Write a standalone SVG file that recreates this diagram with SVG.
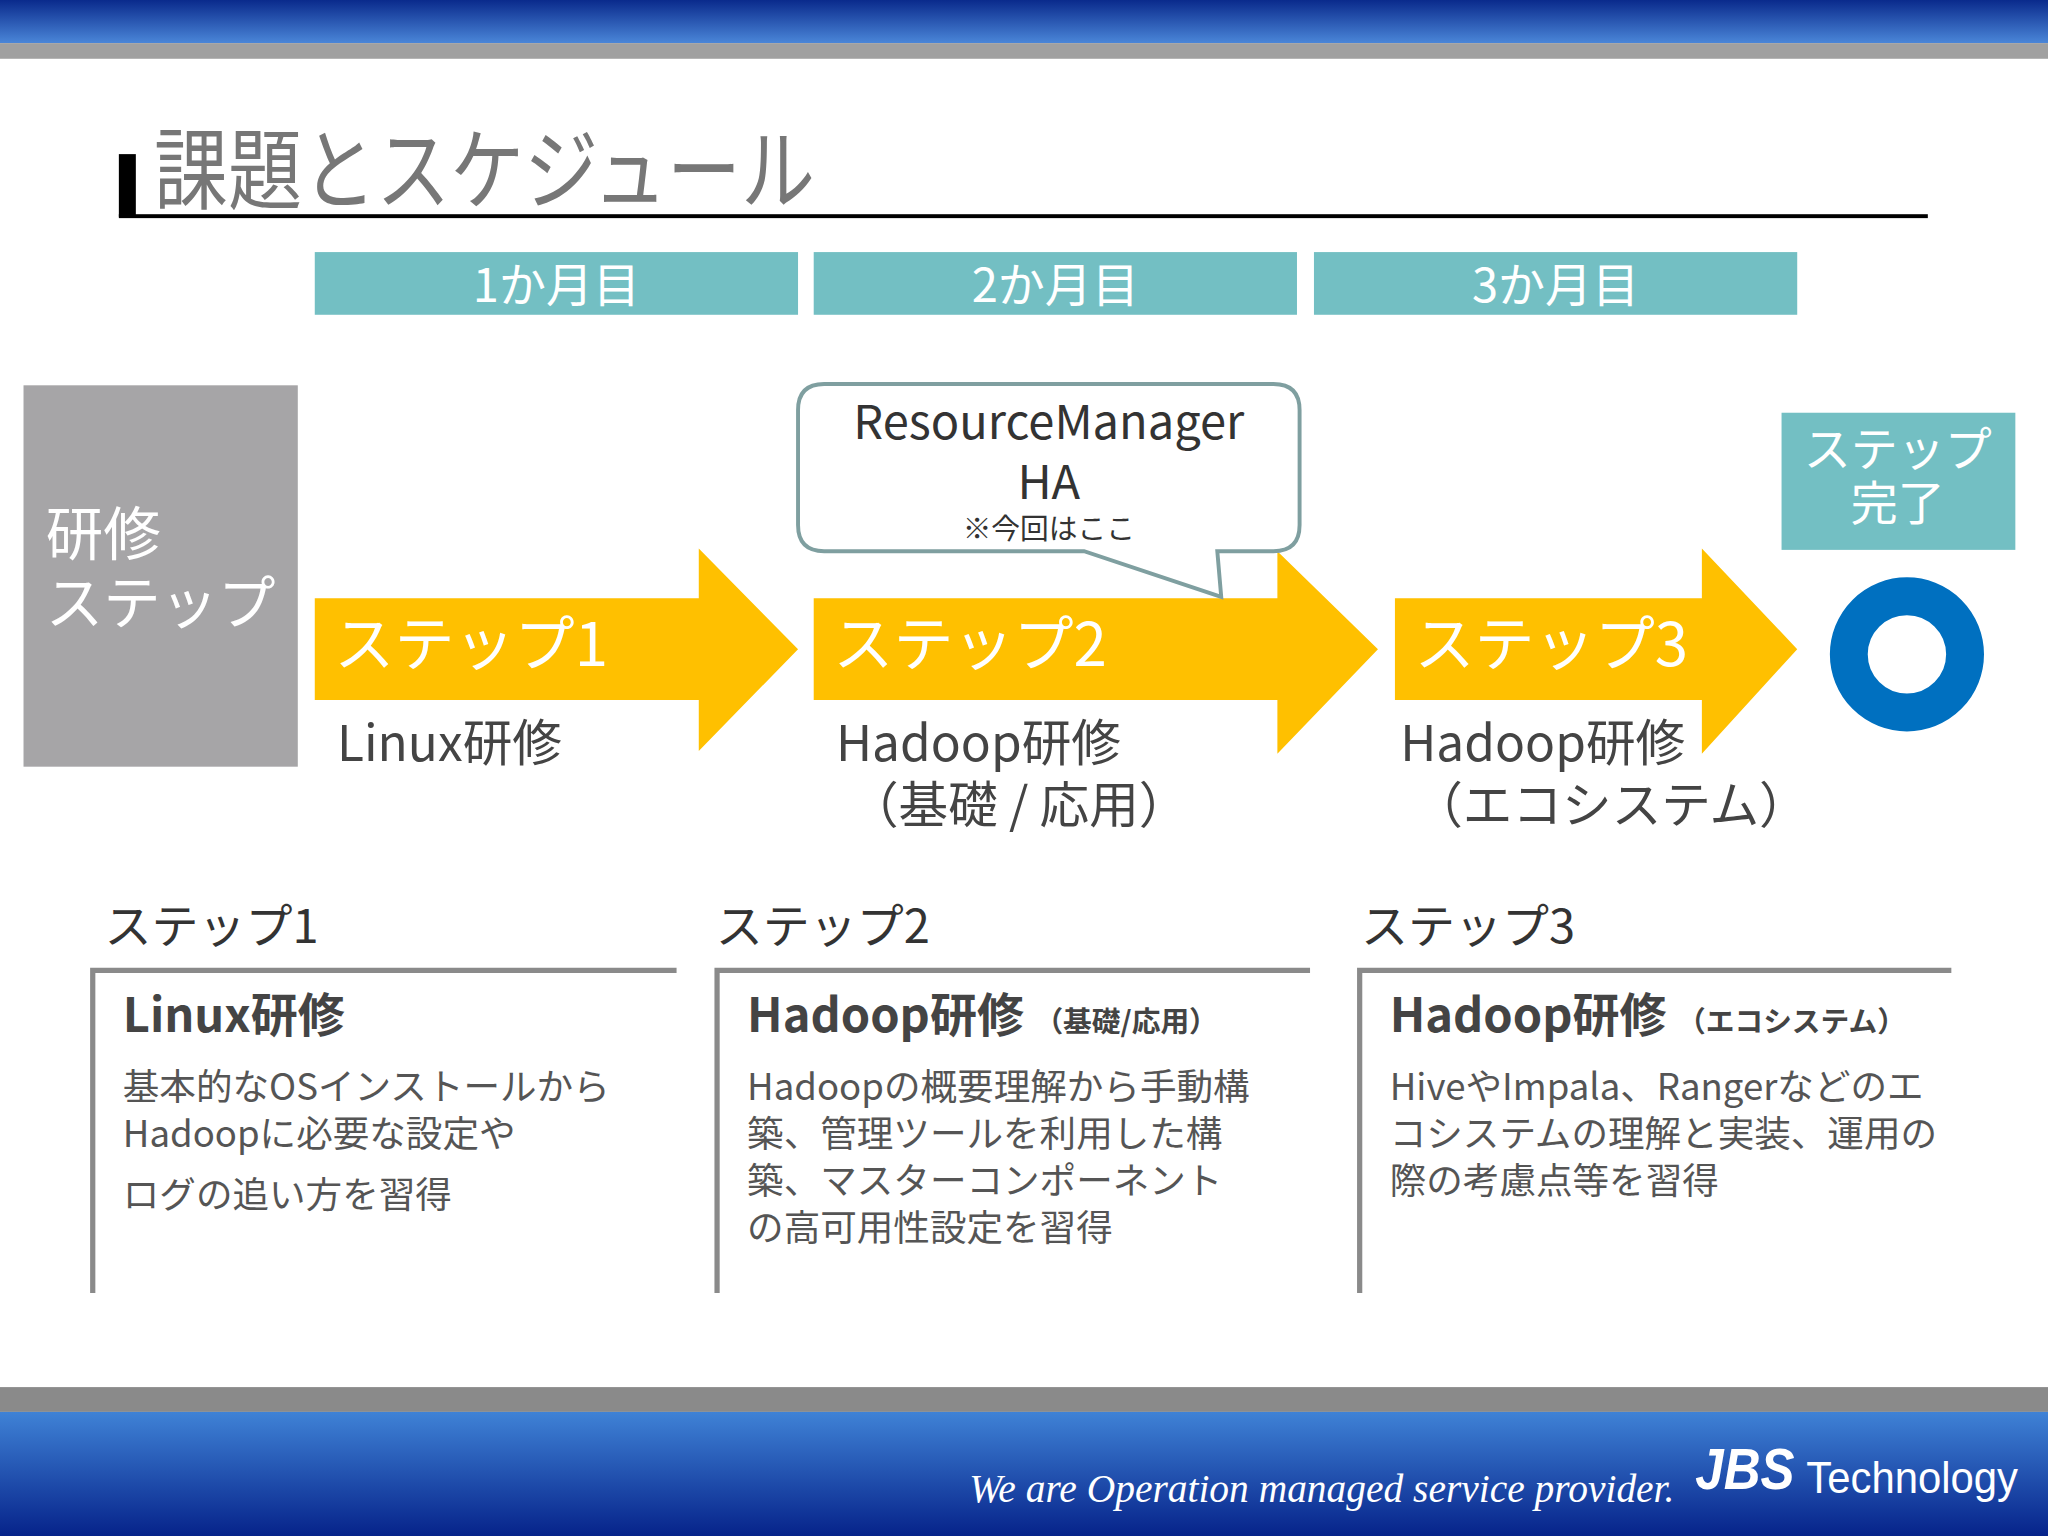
<svg xmlns="http://www.w3.org/2000/svg" width="2048" height="1536" viewBox="0 0 2048 1536">
<defs>
<linearGradient id="top" x1="0" y1="0" x2="0" y2="1"><stop offset="0" stop-color="#0a2a8c"/><stop offset="1" stop-color="#4a86d8"/></linearGradient>
<linearGradient id="bot" x1="0" y1="0" x2="0" y2="1"><stop offset="0" stop-color="#3f82d6"/><stop offset="1" stop-color="#06238a"/></linearGradient>
<style>
text{font-family:"Noto Sans CJK JP","Liberation Sans",sans-serif}
.m{fill:#fff;font-size:36px;text-anchor:middle}
.st{fill:#fff;font-size:46px}
.sub{fill:#444;font-size:38px}
.h{fill:#333;font-size:36px}
.bt{fill:#444;font-size:36px;font-weight:bold}
.bs{font-size:22px}
.b{fill:#555;font-size:28px}
.arrow{fill:#FFC000}
.frame{fill:none;stroke:#8a8a8a;stroke-width:4}
.ft{fill:#fff;font-family:"Liberation Serif",serif;font-style:italic}
.fs{fill:#fff;font-family:"Liberation Sans",sans-serif}
</style>
</defs>
<rect width="2048" height="1536" fill="#fff"/>
<g transform="scale(1.30612)">
<rect x="0" y="0" width="1568" height="33" fill="url(#top)"/>
<rect x="0" y="33" width="1568" height="12" fill="#a0a0a0"/>
<g id="title">
<rect x="91" y="118" width="13" height="48" fill="#000"/>
<rect x="91" y="164" width="1385" height="3" fill="#000"/>
<text x="118" y="155" fill="#777" font-size="68" textLength="506" lengthAdjust="spacingAndGlyphs">課題とスケジュール</text>
</g>
<g id="months">
<rect x="241" y="193" width="370" height="48" fill="#73BFC3"/>
<rect x="623" y="193" width="370" height="48" fill="#73BFC3"/>
<rect x="1006" y="193" width="370" height="48" fill="#73BFC3"/>
<text class="m" x="426" y="231">1か月目</text>
<text class="m" x="808" y="231">2か月目</text>
<text class="m" x="1191" y="231">3か月目</text>
</g>
<g id="label">
<rect x="18" y="295" width="210" height="292" fill="#A6A5A7"/>
<text x="35" y="425" fill="#fff" font-size="44">研修</text>
<text x="35" y="478" fill="#fff" font-size="44">ステップ</text>
</g>
<g id="step1">
<polygon class="arrow" points="241,458 535,458 535,420 611,497 535,575 535,536 241,536"/>
<text class="st" x="256" y="510">ステップ1</text>
<text class="sub" x="258" y="583">Linux研修</text>
</g>
<g id="step2">
<polygon class="arrow" points="623,458 978,458 978,422 1055,497 978,577 978,536 623,536"/>
<text class="st" x="638" y="510">ステップ2</text>
<text class="sub" x="640" y="583">Hadoop研修</text>
<text class="sub" x="650" y="630">（基礎 / 応用）</text>
</g>
<g id="step3">
<polygon class="arrow" points="1068,458 1303,458 1303,420 1376,497 1303,577 1303,536 1068,536"/>
<text class="st" x="1083" y="510">ステップ3</text>
<text class="sub" x="1072" y="583">Hadoop研修</text>
<text class="sub" x="1082" y="630">（エコシステム）</text>
</g>
<g id="callout">
<path d="M631,294 H975 Q995,294 995,314 V402 Q995,422 975,422 H932 L935,457 L830,422 H631 Q611,422 611,402 V314 Q611,294 631,294 Z" fill="#fff" stroke="#7F9FA0" stroke-width="3"/>
<text x="803" y="336" fill="#333" font-size="36" text-anchor="middle">ResourceManager</text>
<text x="803" y="382" fill="#333" font-size="36" text-anchor="middle">HA</text>
<text x="803" y="413" fill="#333" font-size="22" text-anchor="middle">※今回はここ</text>
</g>
<g id="done">
<rect x="1364" y="316" width="179" height="105" fill="#73BFC3"/>
<text class="m" x="1453" y="357">ステップ</text>
<text class="m" x="1453" y="398">完了</text>
<circle cx="1460" cy="501" r="44.5" fill="none" stroke="#0070C0" stroke-width="29"/>
</g>
<g id="detail1">
<text class="h" x="80" y="722">ステップ1</text>
<path class="frame" d="M71,990 V743 H518"/>
<text class="bt" x="94" y="790">Linux研修</text>
<text class="b" x="94" y="842">基本的なOSインストールから</text>
<text class="b" x="94" y="878">Hadoopに必要な設定や</text>
<text class="b" x="94" y="925">ログの追い方を習得</text>
</g>
<g id="detail2">
<text class="h" x="548" y="722">ステップ2</text>
<path class="frame" d="M549,990 V743 H1003"/>
<text class="bt" x="572" y="790">Hadoop研修<tspan class="bs" dx="8">（基礎/応用）</tspan></text>
<text class="b" x="572" y="842">Hadoopの概要理解から手動構</text>
<text class="b" x="572" y="878">築、管理ツールを利用した構</text>
<text class="b" x="572" y="914">築、マスターコンポーネント</text>
<text class="b" x="572" y="950">の高可用性設定を習得</text>
</g>
<g id="detail3">
<text class="h" x="1042" y="722">ステップ3</text>
<path class="frame" d="M1041,990 V743 H1494"/>
<text class="bt" x="1064" y="790">Hadoop研修<tspan class="bs" dx="8">（エコシステム）</tspan></text>
<text class="b" x="1064" y="842">HiveやImpala、Rangerなどのエ</text>
<text class="b" x="1064" y="878">コシステムの理解と実装、運用の</text>
<text class="b" x="1064" y="914">際の考慮点等を習得</text>
</g>
<rect x="0" y="1062" width="1568" height="19" fill="#8a8a8a"/>
<rect x="0" y="1081" width="1568" height="95" fill="url(#bot)"/>
<g id="footer">
<text class="ft" x="742" y="1150" font-size="30" textLength="540" lengthAdjust="spacingAndGlyphs">We are Operation managed service provider.</text>
<text class="fs" x="1298" y="1140" font-size="44" font-style="italic" font-weight="bold" textLength="76" lengthAdjust="spacingAndGlyphs">JBS</text>
<text class="fs" x="1383" y="1143" font-size="34" textLength="162" lengthAdjust="spacingAndGlyphs">Technology</text>
</g>
</g>
</svg>
